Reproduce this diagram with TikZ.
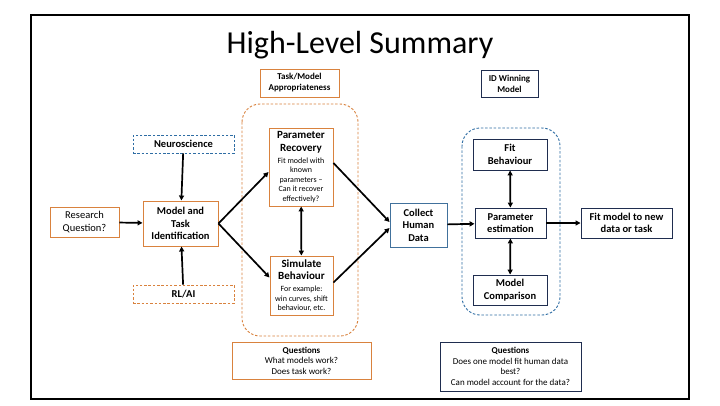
\documentclass[tikz,border=0pt]{standalone}
\usepackage{fontspec}
\setmainfont{Carlito}
\usetikzlibrary{arrows.meta,calc}
\definecolor{orng}{HTML}{D9823E}
\definecolor{bluebox}{HTML}{41719C}
\definecolor{bluedash}{HTML}{2E6DA4}
\definecolor{navy}{HTML}{1F2D4F}
\newcommand{\hd}[1]{{\bfseries\fontsize{11}{12}\selectfont #1}}
\tikzset{
  box/.style={draw, line width=0.9pt, align=center, inner sep=1pt, font=\fontsize{10.5}{12.5}\selectfont},
  bf/.style={font=\bfseries\fontsize{10.5}{12.5}\selectfont},
  sm/.style={font=\fontsize{9}{10.5}\selectfont},
  obox/.style={box, draw=orng},
  bbox/.style={box, draw=bluebox},
  nbox/.style={box, draw=navy},
  arr/.style={line width=1.7pt, -{Triangle[length=5pt,width=5pt]}},
  darr/.style={line width=1.7pt, {Triangle[length=5pt,width=5pt]}-{Triangle[length=5pt,width=5pt]}},
  region/.style={line width=0.9pt, dashed, dash pattern=on 2.5pt off 1.8pt, rounded corners=18pt},
}
\begin{document}
\begin{tikzpicture}[x=1pt,y=-1pt]
\useasboundingbox (0,0) rectangle (720,405);
\fill[white] (0,0) rectangle (720,405);
\draw[line width=1.2pt] (31,15) rectangle (689,399);
\node (title) at (360,45) {\fontsize{32}{36}\selectfont High-Level Summary};

% regions
\draw[region, draw=orng] (242,104) rectangle (358,336);
\draw[region, draw=bluedash] (462,128) rectangle (560,315);

\node[obox, minimum width=69pt, minimum height=30pt] (rq) at (84.5,222) {Research\\Question?};
\node[obox, bf, minimum width=75pt, minimum height=45pt] (mti) at (180.5,223.5) {Model and\\Task\\Identification};
\node[box, bf, draw=bluedash, dashed, dash pattern=on 2.5pt off 1.8pt, minimum width=101pt, minimum height=18pt] (neuro) at (183.5,144) {Neuroscience};
\node[box, bf, draw=orng, dashed, dash pattern=on 2.5pt off 1.8pt, minimum width=101pt, minimum height=18pt] (rlai) at (183.5,294) {RL/AI};

\node[obox, minimum width=79pt, minimum height=28pt, font=\bfseries\fontsize{9}{11}\selectfont] (tma) at (299.5,83) {Task/Model\\Appropriateness};

\node[obox, minimum width=64pt, minimum height=78pt, font=\fontsize{8}{9.5}\selectfont] (pr) at (301,167) {\hd{Parameter}\\[3pt]\hd{Recovery}\\[2.5pt]Fit model with\\known\\parameters –\\Can it recover\\effectively?};
\node[obox, minimum width=63pt, minimum height=59pt, font=\fontsize{8}{9.5}\selectfont] (sb) at (301.5,285.5) {\hd{Simulate}\\[3pt]\hd{Behaviour}\\[2.5pt]For example:\\win curves, shift\\behaviour, etc.};

\node[bbox, bf, minimum width=57pt, minimum height=44pt] (chd) at (418.5,225) {Collect\\Human\\Data};

\node[nbox, minimum width=57pt, minimum height=27pt, font=\bfseries\fontsize{9}{11}\selectfont] (idw) at (509.5,83.5) {ID Winning\\Model};
\node[nbox, bf, minimum width=74pt, minimum height=31pt] (fb) at (510,154.5) {Fit\\Behaviour};
\node[nbox, bf, minimum width=71pt, minimum height=30pt] (pe) at (510.5,223) {Parameter\\estimation};
\node[nbox, bf, minimum width=74pt, minimum height=30pt] (mc) at (510,290) {Model\\Comparison};
\node[nbox, bf, minimum width=91pt, minimum height=30pt] (fmn) at (626.5,223) {Fit model to new\\data or task};

\node[obox, sm, minimum width=139pt, minimum height=37pt] (q1) at (301.5,360.5) {\textbf{Questions}\\What models work?\\Does task work?};
\node[nbox, sm, minimum width=141pt, minimum height=49pt] (q2) at (510.5,366.5) {\textbf{Questions}\\Does one model fit human data\\best?\\Can model account for the data?};

% connectors
\draw[arr] (rq) -- (mti);
\draw[arr] (neuro) -- (mti);
\draw[arr] (rlai) -- (mti);
\draw[arr] (mti.east) -- ($(pr.west)+(0,5)$);
\draw[arr] (mti.east) -- ($(sb.west)+(0,-8)$);
\draw[arr] ($(pr.east)+(0,-4)$) -- ($(chd.west)+(0,-3)$);
\draw[arr] ($(sb.east)+(0,-3)$) -- ($(chd.west)+(0,3)$);
\draw[darr] (pr) -- (sb);
\draw[arr] (chd) -- (pe);
\draw[darr] (fb) -- (pe);
\draw[darr] (pe) -- (mc);
\draw[arr] (pe) -- (fmn);
\end{tikzpicture}
\end{document}
